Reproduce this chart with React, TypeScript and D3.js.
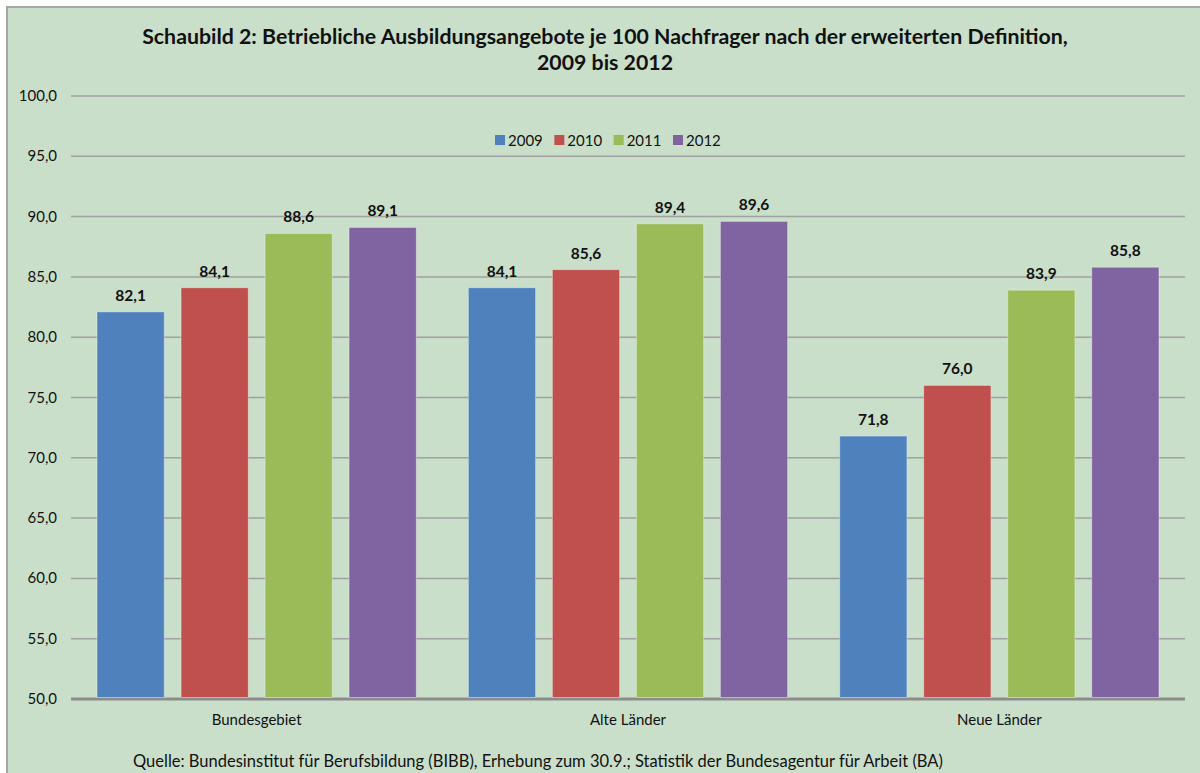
import React from 'react';
import * as d3 from 'd3';

const categories = ['Bundesgebiet', 'Alte Länder', 'Neue Länder'];
const years = ['2009', '2010', '2011', '2012'];
const values2009 = [82.1, 84.1, 71.8];
const values2010 = [84.1, 85.6, 76.0];
const values2011 = [88.6, 89.4, 83.9];
const values2012 = [89.1, 89.6, 85.8];
const yTicks = [50, 55, 60, 65, 70, 75, 80, 85, 90, 95, 100];
const colors = ['#4F81BD', '#C0504D', '#9BBB59', '#8064A2'];

const titleLines = [
  'Schaubild 2: Betriebliche Ausbildungsangebote je 100 Nachfrager nach der erweiterten Definition,',
  '2009 bis 2012',
];
const sourceText =
  'Quelle: Bundesinstitut für Berufsbildung (BIBB), Erhebung zum 30.9.; Statistik der Bundesagentur für Arbeit (BA)';

const series = [values2009, values2010, values2011, values2012];

const de = d3.formatLocale({ decimal: ',', thousands: '.', grouping: [3], currency: ['', ' €'] });
const fmt = de.format('.1f');

const font = 'Lato, "Open Sans", sans-serif';

export default function App() {
  const width = 1200;
  const height = 773;
  const plot = { left: 71, right: 1185, top: 96, bottom: 699 };

  const y = d3.scaleLinear().domain([50, 100]).range([plot.bottom, plot.top]);
  const x0 = d3.scaleBand<string>().domain(categories).range([plot.left, plot.right]).padding(0);
  const x1 = d3
    .scaleBand<string>()
    .domain(years)
    .range([0, x0.bandwidth()])
    .paddingInner(0.2)
    .paddingOuter(0.31);

  const legendX = d3.scalePoint<string>().domain(years).range([495, 673]);

  return (
    <svg
      width={width}
      height={height}
      style={{ position: 'absolute', left: 0, top: 0, fontFamily: font }}
    >
      <rect x={7} y={7} width={1210} height={790} fill="#CADFCA" stroke="#A6A6A6" strokeWidth={2} />

      {/* title */}
      {titleLines.map((t, i) => (
        <text
          key={i}
          x={605}
          y={44 + i * 26}
          textAnchor="middle"
          fontSize={21.3}
          fontWeight="bold"
          fill="#111"
        >
          {t}
        </text>
      ))}

      {/* gridlines + y labels */}
      {yTicks.map((t) => (
        <g key={t}>
          <line
            x1={plot.left}
            x2={plot.right}
            y1={y(t)}
            y2={y(t)}
            stroke={t === 50 ? '#8C8C8C' : '#A0A0A0'}
            strokeWidth={t === 50 ? 3 : 1.5}
          />
          <text x={57} y={y(t) + 5} textAnchor="end" fontSize={15} fill="#111">
            {fmt(t)}
          </text>
        </g>
      ))}

      {/* bars */}
      {categories.map((c, ci) => (
        <g key={c} transform={`translate(${x0(c)},0)`}>
          {years.map((yr, si) => {
            const v = series[si][ci];
            const bx = x1(yr)!;
            return (
              <g key={yr}>
                <rect
                  x={bx}
                  y={y(v)}
                  width={x1.bandwidth()}
                  height={y(50) - y(v) - 1.5}
                  fill={colors[si]}
                  stroke="rgba(255,255,255,0.35)"
                  strokeWidth={1}
                />
                <text
                  x={bx + x1.bandwidth() / 2}
                  y={y(v) - 11}
                  textAnchor="middle"
                  fontSize={15.5}
                  fontWeight="bold"
                  fill="#111"
                >
                  {fmt(v)}
                </text>
              </g>
            );
          })}
          <text
            x={x0.bandwidth() / 2}
            y={725}
            textAnchor="middle"
            fontSize={15}
            fill="#111"
          >
            {c}
          </text>
        </g>
      ))}

      {/* legend */}
      {years.map((yr, i) => (
        <g key={yr} transform={`translate(${legendX(yr)},135)`}>
          <rect x={0} y={0} width={10} height={10} fill={colors[i]} />
          <text x={13} y={11} fontSize={15} fill="#111">
            {yr}
          </text>
        </g>
      ))}

      <text x={133} y={767} fontSize={16.5} fill="#111">
        {sourceText}
      </text>
    </svg>
  );
}
